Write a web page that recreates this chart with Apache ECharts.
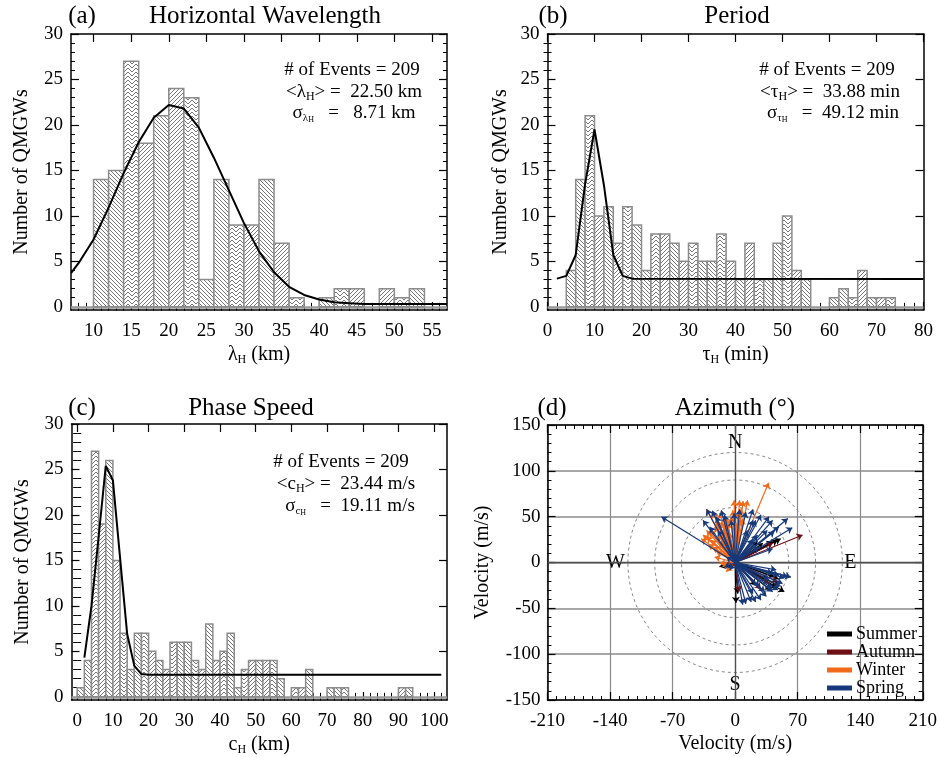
<!DOCTYPE html>
<html>
<head>
<meta charset="utf-8">
<script src="https://cdn.jsdelivr.net/npm/echarts@6/dist/echarts.min.js"></script>
<style>
  html, body { margin: 0; padding: 0; background: #fff; }
  #chart { width: 940px; height: 757px; }
</style>
</head>
<body>
<div id="chart"></div>
<script>
// ---------------- data ----------------
const BIN_WIDTH = 2;

// (a) horizontal wavelength histogram (left bin edges, km) and counts
const waveBins   = [10,12,14,16,18,20,22,24,26,28,30,32,34,36,38,40,42,44,46,48,50,52];
const waveCounts = [14,15,27,18,21,24,23, 3,14, 9, 9,14, 7, 1, 0, 1, 2, 2, 0, 2, 1, 2];
const waveFitX = [7,8,10,12,14,16,18,20,22,24,26,28,30,32,34,36,38,40,42,44,46,50,57];
const waveFitY = [3.7,4.8,7.4,10.9,14.7,18.1,20.8,22.2,21.8,19.7,16.4,12.8,9.2,6.1,3.8,2.2,1.3,0.8,0.5,0.4,0.3,0.3,0.3];
const waveTicks = [10,15,20,25,30,35,40,45,50,55];

// (b) period histogram (min)
const periodBins   = [4,6,8,10,12,14,16,18,20,22,24,26,28,30,32,34,36,38,40,42,44,46,48,50,52,54,56,58,60,62,64,66,68,70,72];
const periodCounts = [4,14,21,10,11,7,11,9,4,8,8,7,5,7,5,5,8,5,3,7,3,3,7,10,4,3,0,0,1,2,1,4,1,1,1];
const periodFitX = [2,4,6,8,10,12,14,16,18,80];
const periodFitY = [3.1,3.4,5.7,13.5,19.5,13.4,5.7,3.4,3.1,3.07];
const periodTicks = [0,10,20,30,40,50,60,70,80];

// (c) phase speed histogram
const speedBins   = [0,2,4,6,8,10,12,14,16,18,20,22,24,26,28,30,32,34,36,38,40,42,44,46,48,50,52,54,56,58,60,62,64,66,68,70,72,74,76,78,80,82,84,86,88,90,92];
const speedCounts = [1,4,27,19,26,15,7,3,7,7,5,4,3,6,6,6,4,3,8,4,5,7,1,3,4,4,4,4,2,0,1,1,3,0,0,1,1,1,0,0,0,0,0,0,0,1,1];
const speedFitX = [2,4,6,8,10,12,14,16,18,20,102];
const speedFitY = [4.3,10.0,17.6,25.4,23.8,15.3,6.9,3.4,2.5,2.43,2.43];
const speedTicks = [0,10,20,30,40,50,60,70,80,90,100];

const countTicks = [0,5,10,15,20,25,30];

// (d) propagation velocity vectors [east, north] in m/s, by season
const seasons = ['Summer','Autumn','Winter','Spring'];
const summerVec = [
  [51,26],[47.6,24.5],[42,23],[25,23],[31,21],[55,-32],[48.7,-18],[46,-28],[40,-30],
  [23,-25],[1,-44],[3,-34],[-17.5,-4.5],[36,-19],[44,-15.5],[49,-26],[-10,-6]
];
const autumnVec = [
  [75.5,30],[47.6,-21],[4,-32],[29,-29],[42,21],[38,-23],[-4.5,-4.5]
];
const winterVec = [
  [37.5,87],[-1,68],[5,68],[9,67],[14,68],[7,59],[-32,58],[-25,55],[-17.5,54],[-12,50],
  [-36,30],[-32,28],[-28.6,34],[-23,39],[-21,46],[-15.6,44.5],[-10,48],[-8,43],[-4.5,50],
  [-25,17],[-21,12],[-27,24.5],[-15.6,24.5],[-14,-4.5],[-10,-10],[-17.5,-1],[1,43],[8.5,48],
  [-32,35],[-19,30],[-14,35],[-6,32],[3,54],[5,46],[-2.6,57],[-23,6],[-8,19],
  [-38,26],[-30,20],[-20,42],[-12,40],[-18,22]
];
const springVec = [
  [-82.5,50],[-32,58],[-25.6,56.5],[-15.6,57],[-12,52],[-36,46],[-28.6,39],[-19,35],
  [5,58],[12,55],[20,58],[29,52],[23,46],[38,50],[42,46],[59,48],[64,38],[49,39],[44,34],
  [36,35],[25,30],[14,35],[20,46],[62.5,-16],[59,-15.5],[46,-8],[42,-12],[53,-23],[51,-26],
  [48,-30],[42,-32],[35,-37],[29,-41],[23,-43],[18,-43],[12,-45],[8.5,-46],[20,-34],[38,-19],
  [49,-14],[27,-26],[55,-17],[41,-28],[33,-32],[-12,-5],[-6,-8],[-10,6],[-4.5,46],[-1,54],
  [-21,50],[27,17],[20,25],[42,15]
];
const ringRadii = [60, 90, 120];
const compassText = ['N','E','S','W'];

// ---------------- styling helpers ----------------
const FONT = 'Liberation Serif';
const INK = '#000';
const seasonColor = { Summer: '#000000', Autumn: '#6e0f14', Winter: '#f26a1b', Spring: '#17397a' };

function hatchTile(kind) {
  const c = document.createElement('canvas');
  const g = c.getContext('2d');
  if (kind === 'herr') {
    c.width = 8; c.height = 4;
  } else {
    c.width = 4; c.height = 4;
  }
  g.fillStyle = '#fff';
  g.fillRect(0, 0, c.width, c.height);
  g.strokeStyle = '#777';
  g.lineWidth = 1;
  g.beginPath();
  if (kind === 'back') {
    g.moveTo(-1, -1); g.lineTo(5, 5);
    g.moveTo(-1, 3); g.lineTo(1, 5);
    g.moveTo(3, -1); g.lineTo(5, 1);
  } else if (kind === 'fwd') {
    g.moveTo(-1, 5); g.lineTo(5, -1);
    g.moveTo(-1, 1); g.lineTo(1, -1);
    g.moveTo(3, 5); g.lineTo(5, 3);
  } else {
    g.moveTo(-1, -1); g.lineTo(4, 4); g.lineTo(9, -1);
    g.moveTo(-1, 3); g.lineTo(0, 4);
    g.moveTo(8, 4); g.lineTo(9, 3);
  }
  g.stroke();
  return { image: c, repeat: 'repeat' };
}
const hatches = { back: hatchTile('back'), fwd: hatchTile('fwd'), herr: hatchTile('herr') };
const hatchCycle = ['back', 'back', 'herr', 'fwd', 'back', 'fwd', 'herr'];

const grids = [
  { left: 71,    top: 34,  width: 376,   height: 276 },
  { left: 547.5, top: 34,  width: 376,   height: 276 },
  { left: 71.5,  top: 424, width: 375.5, height: 279 },
  { left: 547.5, top: 425, width: 376.5, height: 275 }
];

const xAxes = [], yAxes = [];
const labelStyle = { fontFamily: FONT, fontSize: 19, color: INK };
const subRich = {
  sub: { fontFamily: FONT, fontSize: 12, color: INK, verticalAlign: 'bottom' }
};

function boxAxes(list, dim, grid, min, max, major, minor, label, name) {
  const main = list.length;
  const sides = dim === 'x' ? ['bottom', 'top'] : ['left', 'right'];
  sides.forEach((pos, k) => {
    const ax = {
      gridIndex: grid, type: 'value', min, max, position: pos,
      axisLine: { show: true, onZero: false, lineStyle: { color: INK, width: 1.5 } },
      axisTick: { show: true, inside: true, length: 8, customValues: major, lineStyle: { color: INK, width: 1.2 } },
      axisLabel: k === 0 ? Object.assign({ customValues: major }, labelStyle, label) : { show: false },
      splitLine: { show: false }
    };
    if (k === 0 && name) Object.assign(ax, name);
    list.push(ax);
    list.push({
      gridIndex: grid, type: 'value', min, max, position: pos,
      axisLine: { show: false },
      axisTick: { show: true, inside: true, length: 4, customValues: minor, lineStyle: { color: INK, width: 1 } },
      axisLabel: { show: false }, splitLine: { show: false }
    });
  });
  return main;
}
function steps(from, to, step, skip) {
  const out = [];
  for (let v = from; v <= to + 1e-9; v += step) {
    if (Math.abs(v / skip - Math.round(v / skip)) > 1e-9) out.push(v);
  }
  return out;
}
function yName(gap) {
  return {
    name: 'Number of QMGWs', nameLocation: 'middle', nameGap: gap,
    nameTextStyle: { fontFamily: FONT, fontSize: 20, color: INK }
  };
}
function xName(text, gap) {
  return {
    name: text, nameLocation: 'middle', nameGap: gap,
    nameTextStyle: { fontFamily: FONT, fontSize: 20, color: INK, lineHeight: 22, rich: subRich }
  };
}

// histogram panels
const Y_MIN = -0.35, Y_MAX = 30;
const yMinor = steps(1, 29, 1, 5);
const ax = {};
ax.ax = boxAxes(xAxes, 'x', 0, 7, 57, waveTicks, steps(8, 56, 1, 5), { margin: 12 }, xName('λ{sub|H} (km)', 34));
ax.ay = boxAxes(yAxes, 'y', 0, Y_MIN, Y_MAX, countTicks, yMinor, { margin: 8 }, yName(39));
ax.bx = boxAxes(xAxes, 'x', 1, 0, 80, periodTicks, steps(2, 78, 2, 10), { margin: 12 }, xName('τ{sub|H} (min)', 34));
ax.by = boxAxes(yAxes, 'y', 1, Y_MIN, Y_MAX, countTicks, yMinor, { margin: 8 }, yName(37));
ax.cx = boxAxes(xAxes, 'x', 2, -1.6, 103.6, speedTicks, steps(2, 102, 2, 10), { margin: 12 }, xName('c{sub|H} (km)', 34));
ax.cy = boxAxes(yAxes, 'y', 2, Y_MIN, Y_MAX, countTicks, yMinor, { margin: 8 }, yName(39));

// azimuth panel axes
const velName = {
  name: 'Velocity (m/s)', nameLocation: 'middle',
  nameTextStyle: { fontFamily: FONT, fontSize: 20, color: INK }
};
ax.dx = xAxes.length;
[['bottom', true], ['top', false]].forEach(([pos, main]) => {
  xAxes.push(Object.assign({
    gridIndex: 3, type: 'value', min: -210, max: 210, interval: 70, position: pos,
    axisLine: { show: true, onZero: false, lineStyle: { color: INK, width: 1.5 } },
    axisTick: { show: true, inside: true, length: 8, lineStyle: { color: INK, width: 1.2 } },
    minorTick: { show: true, splitNumber: 7, length: 4, lineStyle: { color: INK, width: 1 } },
    axisLabel: main ? Object.assign({ margin: 12 }, labelStyle) : { show: false },
    splitLine: { show: main, lineStyle: { color: '#8a8a8a', width: 1.2 } }
  }, main ? Object.assign({ nameGap: 34 }, velName) : {}));
});
ax.dy = yAxes.length;
[['left', true], ['right', false]].forEach(([pos, main]) => {
  yAxes.push(Object.assign({
    gridIndex: 3, type: 'value', min: -150, max: 150, interval: 50, position: pos,
    axisLine: { show: true, onZero: false, lineStyle: { color: INK, width: 1.5 } },
    axisTick: { show: true, inside: true, length: 8, lineStyle: { color: INK, width: 1.2 } },
    minorTick: { show: true, splitNumber: 5, length: 4, lineStyle: { color: INK, width: 1 } },
    axisLabel: main ? Object.assign({ margin: 7 }, labelStyle) : { show: false },
    splitLine: { show: main, lineStyle: { color: '#a8a8a8', width: 2 } }
  }, main ? Object.assign({ nameGap: 55 }, velName) : {}));
});

// ---------------- series ----------------
function histSeries(xi, yi, bins, counts) {
  return {
    type: 'custom', xAxisIndex: xi, yAxisIndex: yi, silent: true, z: 2,
    data: bins.map((b, i) => [b, b + BIN_WIDTH, counts[i]]),
    encode: { x: [0, 1], y: 2 },
    renderItem(params, api) {
      const n = api.value(2);
      if (!n) return;
      const p0 = api.coord([api.value(0), 0]);
      const p1 = api.coord([api.value(1), n]);
      return {
        type: 'rect',
        shape: { x: p0[0], y: p1[1], width: p1[0] - p0[0], height: p0[1] - p1[1] },
        style: {
          fill: hatches[hatchCycle[params.dataIndex % hatchCycle.length]],
          stroke: '#8c8c8c', lineWidth: 1.5
        }
      };
    }
  };
}
function fitSeries(xi, yi, xs, ys) {
  return {
    type: 'line', xAxisIndex: xi, yAxisIndex: yi, silent: true, z: 4,
    symbol: 'none', data: xs.map((x, i) => [x, ys[i]]),
    lineStyle: { color: '#000', width: 2 },
    markLine: {
      silent: true, symbol: 'none', label: { show: false },
      lineStyle: { color: '#9a9a9a', width: 2.5, type: 'solid' },
      data: [{ yAxis: 0 }], z: 1
    }
  };
}
function arrowSeries(name, vecs) {
  return {
    name, type: 'lines', coordinateSystem: 'cartesian2d',
    xAxisIndex: ax.dx, yAxisIndex: ax.dy, silent: true, z: 5,
    symbol: ['none', 'arrow'], symbolSize: 6,
    itemStyle: { color: seasonColor[name] },
    lineStyle: { color: seasonColor[name], width: 1.2, opacity: 1, curveness: 0 },
    data: vecs.map(v => ({ coords: [[0, 0], [v[0], v[1]]] }))
  };
}

const series = [
  histSeries(ax.ax, ax.ay, waveBins, waveCounts),
  fitSeries(ax.ax, ax.ay, waveFitX, waveFitY),
  histSeries(ax.bx, ax.by, periodBins, periodCounts),
  fitSeries(ax.bx, ax.by, periodFitX, periodFitY),
  histSeries(ax.cx, ax.cy, speedBins, speedCounts),
  fitSeries(ax.cx, ax.cy, speedFitX, speedFitY),
  {
    // dashed speed rings
    type: 'custom', xAxisIndex: ax.dx, yAxisIndex: ax.dy, silent: true, z: 2,
    data: ringRadii.map(r => [0, 0, r]),
    renderItem(params, api) {
      const c = api.coord([api.value(0), api.value(1)]);
      const s = api.size([api.value(2), api.value(2)]);
      return {
        type: 'ellipse',
        shape: { cx: c[0], cy: c[1], rx: s[0], ry: s[1] },
        style: { fill: 'none', stroke: '#8a8a8a', lineWidth: 1, lineDash: [3, 3] }
      };
    }
  },
  {
    // compass letters and the zero axes
    type: 'scatter', xAxisIndex: ax.dx, yAxisIndex: ax.dy, silent: true, z: 3,
    symbol: 'circle', symbolSize: 0.5, itemStyle: { color: '#000', opacity: 1 },
    data: [[0, 131, compassText[0]], [129, 0, compassText[1]], [0, -133, compassText[2]], [-134, 0, compassText[3]]],
    label: {
      show: true, position: 'inside', formatter: p => p.value[2], opacity: 1,
      fontFamily: FONT, fontSize: 20, color: '#000', textBorderWidth: 0
    },
    markLine: {
      silent: true, symbol: 'none', label: { show: false },
      lineStyle: { color: '#505050', width: 1.3, type: 'solid' },
      data: [{ xAxis: 0 }, { yAxis: 0 }]
    }
  },
  arrowSeries('Summer', summerVec),
  arrowSeries('Autumn', autumnVec),
  arrowSeries('Winter', winterVec),
  arrowSeries('Spring', springVec)
];

// ---------------- titles and annotations ----------------
const textFont = (size) => `${size}px "${FONT}"`;
const annRich = {
  s:  { font: textFont(12), fill: INK, verticalAlign: 'bottom' },
  s2: { font: textFont(11), fill: INK, verticalAlign: 'bottom' },
  ss: { font: textFont(8),  fill: INK, verticalAlign: 'bottom' }
};
function label(x, y, text, size) {
  return {
    type: 'text', x, y, silent: true, z: 10,
    style: { text, font: textFont(size), fill: INK, align: 'center', verticalAlign: 'middle', lineHeight: 22, rich: annRich }
  };
}
const graphics = [
  label(82, 16, '(a)', 25), label(265, 16, 'Horizontal Wavelength', 25),
  label(553, 16, '(b)', 25), label(737, 16, 'Period', 25),
  label(82, 408, '(c)', 25), label(251, 408, 'Phase Speed', 25),
  label(552, 408, '(d)', 25), label(735, 408, 'Azimuth (°)', 25),

  label(352, 70, '# of Events = 209', 19),
  label(354, 92, '<λ{s|H}> =  22.50 km', 19),
  label(354, 113, 'σ{s2|λ}{ss|H}   =   8.71 km', 19),

  label(827, 70, '# of Events = 209', 19),
  label(830, 92, '<τ{s|H}> =  33.88 min', 19),
  label(833, 113, 'σ{s2|τ}{ss|H}   =  49.12 min', 19),

  label(341, 462, '# of Events = 209', 19),
  label(346, 484, '<c{s|H}> =  23.44 m/s', 19),
  label(350, 506, 'σ{s2|c}{ss|H}   =  19.11 m/s', 19)
];

const chart = echarts.init(document.getElementById('chart'), null, { renderer: 'canvas' });
chart.setOption({
  backgroundColor: '#fff',
  animation: false,
  grid: grids,
  xAxis: xAxes,
  yAxis: yAxes,
  legend: {
    data: seasons.map(s => ({ name: s, itemStyle: { color: seasonColor[s] }, lineStyle: { color: seasonColor[s] } })),
    orient: 'vertical', left: 827, top: 625, padding: 0, itemGap: 0,
    itemWidth: 23, itemHeight: 3, icon: 'rect', selectedMode: false,
    textStyle: { fontFamily: FONT, fontSize: 18, color: INK, lineHeight: 16, padding: [0, 0, 0, 0] }
  },
  graphic: graphics,
  series
});
</script>
</body>
</html>
